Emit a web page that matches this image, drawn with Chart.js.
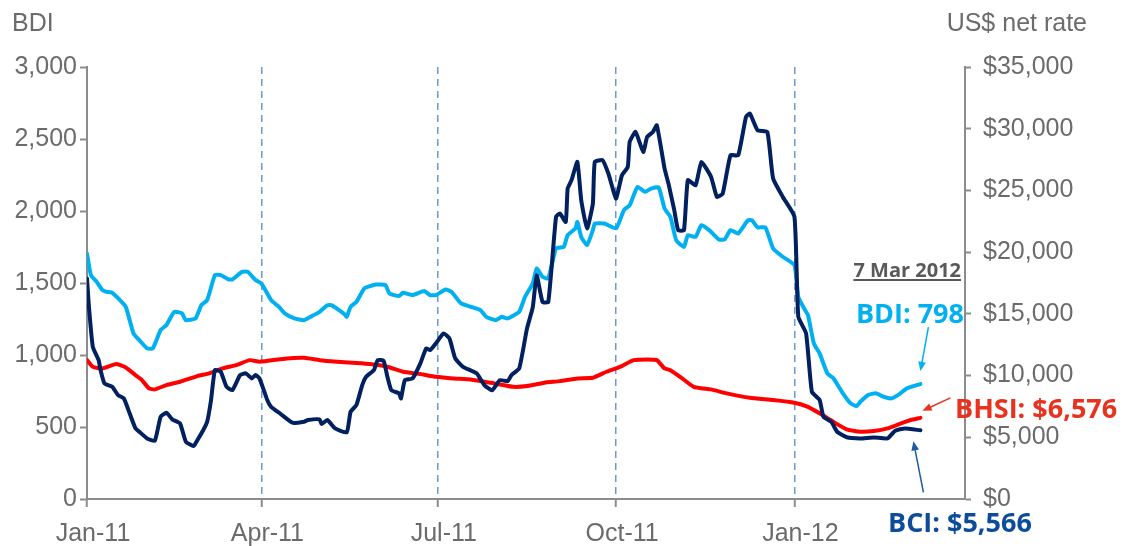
<!DOCTYPE html>
<html>
<head>
<meta charset="utf-8">
<script src="https://cdn.jsdelivr.net/npm/chart.js@4"></script>
<style>
  body { margin: 0; background: #fff; }
  canvas { display: block; }
</style>
</head>
<body>
<canvas id="freight" width="1122" height="546"></canvas>
<script>
// x values are days counted from 1 Jan 2011
const monthTicks = [0, 90, 181, 273, 365];
const monthLabels = ['Jan-11', 'Apr-11', 'Jul-11', 'Oct-11', 'Jan-12'];
const lastDay = 453;
const dateLabel = '7 Mar 2012';

// BDI index, left axis
const bdiDays = [0, 2, 5, 8, 10, 13, 17, 20, 24, 27, 31, 34, 38, 41, 45, 49, 51, 56, 59, 62, 66, 69, 73, 75, 80, 83, 87, 90, 95, 99,
  102, 107, 112, 116, 120, 124, 126, 130, 133, 134, 136, 139, 143, 146, 149, 154, 156, 161, 163, 168, 174, 177, 180, 185, 188, 193, 198,
  203, 206, 211, 214, 217, 223, 226, 230, 232, 235, 238, 242, 246, 248, 252, 253, 255, 258, 261, 262, 267, 273, 277, 280, 284, 288, 291,
  295, 298, 301, 304, 308, 310, 314, 317, 321, 326, 329, 332, 336, 341, 343, 346, 350, 354, 359, 365, 367, 370, 372, 375, 378, 382, 385,
  390, 394, 397, 399, 403, 407, 411, 415, 419, 423, 430];
const bdiValues = [1705, 1555, 1508, 1450, 1439, 1432, 1381, 1335, 1150, 1103, 1046, 1046, 1173, 1208, 1300, 1289, 1242, 1254, 1346, 1381,
  1555, 1555, 1525, 1525, 1577, 1577, 1520, 1497, 1381, 1335, 1289, 1254, 1242, 1270, 1300, 1346, 1346, 1312, 1282, 1265, 1335, 1369,
  1462, 1478, 1490, 1485, 1428, 1409, 1432, 1416, 1444, 1416, 1416, 1455, 1439, 1358, 1335, 1312, 1265, 1242, 1265, 1254, 1300, 1404,
  1497, 1601, 1543, 1532, 1740, 1751, 1832, 1879, 1924, 1820, 1763, 1867, 1913, 1913, 1879, 2006, 2040, 2167, 2133, 2156, 2163, 2017,
  1959, 1797, 1751, 1832, 1820, 1902, 1867, 1802, 1802, 1867, 1844, 1936, 1936, 1886, 1886, 1740, 1682, 1624, 1404, 1323, 1277, 1081,
  1011, 872, 840, 734, 664, 645, 675, 722, 734, 710, 699, 727, 768, 798];

// BCI US$/day, right axis
const bciDays = [0, 1, 3, 6, 7, 9, 13, 16, 19, 22, 25, 27, 31, 35, 38, 41, 44, 48, 51, 55, 57, 60, 62, 64, 66, 69, 72, 75, 79, 82, 85, 87,
  89, 93, 95, 100, 106, 112, 114, 120, 121, 124, 128, 134, 136, 139, 142, 144, 148, 150, 153, 155, 157, 161, 162, 164, 168, 172, 175, 177,
  180, 184, 187, 190, 194, 201, 205, 209, 213, 217, 219, 223, 227, 230, 232, 235, 238, 242, 244, 247, 248, 250, 253, 255, 258, 261, 262,
  266, 269, 271, 273, 276, 279, 280, 283, 287, 289, 292, 294, 298, 300, 303, 305, 308, 310, 314, 317, 322, 325, 328, 332, 336, 340, 342,
  346, 351, 354, 359, 365, 367, 371, 374, 378, 380, 384, 387, 392, 399, 406, 413, 417, 422, 430];
const bciValues = [17870, 15570, 12330, 11250, 10440, 9370, 9090, 8420, 8150, 6940, 5720, 5450, 4910, 4720, 6660, 6990, 6450, 6130, 4640,
  4290, 4780, 5590, 6260, 8020, 10440, 10310, 9090, 8820, 10040, 10180, 9770, 10040, 9770, 8020, 7470, 6880, 6180, 6260, 6400, 6450, 6070,
  6400, 5720, 5400, 7070, 7610, 9230, 9900, 10440, 11250, 11200, 9900, 8820, 8560, 8150, 9630, 9770, 10990, 12200, 12060, 12610, 13420,
  13010, 11390, 10710, 10180, 9230, 8800, 9630, 9550, 10040, 10580, 13800, 15540, 18130, 15970, 15970, 22860, 23130, 22450, 25150, 25830,
  27310, 24210, 21920, 23940, 27310, 27450, 26370, 25280, 24340, 26230, 26900, 28930, 29740, 28120, 29330, 29740, 30280, 26770, 25560,
  23400, 21780, 21780, 25830, 25420, 27310, 26090, 24470, 24750, 27850, 27850, 30950, 31230, 29870, 29740, 25960, 24470, 22860, 14760,
  13420, 8690, 8020, 6660, 6260, 5450, 5000, 4910, 4990, 4910, 5530, 5720, 5566];

// BHSI US$/day, right axis
const bhsiDays = [0, 3, 8, 15, 20, 25, 28, 32, 35, 41, 48, 57, 63, 70, 77, 84, 89, 103, 112, 120, 129, 137, 146, 155, 163, 172, 180, 189,
  198, 210, 220, 227, 236, 244, 253, 261, 268, 275, 282, 289, 294, 298, 301, 306, 313, 322, 330, 342, 354, 365, 372, 378, 385, 392, 399,
  406, 413, 420, 425, 430];
const bhsiValues = [11250, 10710, 10580, 10930, 10660, 10040, 9690, 8960, 8880, 9230, 9500, 9960, 10180, 10580, 10850, 11250, 11120, 11390,
  11440, 11250, 11120, 11030, 10930, 10710, 10310, 10120, 9900, 9770, 9690, 9370, 9090, 9150, 9420, 9550, 9770, 9820, 10310, 10710, 11250,
  11310, 11250, 10580, 10440, 9900, 9090, 8880, 8560, 8200, 8020, 7800, 7470, 6940, 6260, 5640, 5450, 5510, 5720, 6130, 6400, 6576];

const sans = "'Liberation Sans', Arial, sans-serif";
const bold = "'Open Sans', 'Noto Sans', sans-serif";
const grey = '#6b6b6b';
const axisGrey = '#8c8c8c';

function points(days, values) {
  return days.map((d, i) => ({ x: d, y: values[i] }));
}

function fmt(v) {
  return v.toLocaleString('en-US');
}

function arrow(ctx, x1, y1, x2, y2, color) {
  const a = Math.atan2(y2 - y1, x2 - x1);
  const head = 10;
  ctx.strokeStyle = color;
  ctx.fillStyle = color;
  ctx.lineWidth = 1.5;
  ctx.beginPath();
  ctx.moveTo(x1, y1);
  ctx.lineTo(x2 - Math.cos(a) * head * 0.8, y2 - Math.sin(a) * head * 0.8);
  ctx.stroke();
  ctx.beginPath();
  ctx.moveTo(x2, y2);
  ctx.lineTo(x2 - head * Math.cos(a - 0.4), y2 - head * Math.sin(a - 0.4));
  ctx.lineTo(x2 - head * Math.cos(a + 0.4), y2 - head * Math.sin(a + 0.4));
  ctx.closePath();
  ctx.fill();
}

const annotate = {
  id: 'annotate',
  afterDraw(chart) {
    const { ctx, chartArea, scales } = chart;
    const right = chartArea.right;
    ctx.save();

    ctx.font = `25px ${sans}`;
    ctx.fillStyle = grey;
    ctx.textBaseline = 'alphabetic';
    ctx.textAlign = 'left';
    ctx.fillText('BDI', 12, 31);
    ctx.textAlign = 'right';
    ctx.fillText('US$ net rate', right + 122, 31);

    // date caption, underlined
    ctx.font = `bold 20px ${bold}`;
    ctx.fillStyle = '#595959';
    ctx.textAlign = 'right';
    ctx.fillText(dateLabel, right - 4, 277);
    const w = ctx.measureText(dateLabel).width;
    ctx.fillRect(right - 4 - w, 279, w, 2);

    const bdiLast = bdiValues[bdiValues.length - 1];
    const bciLast = bciValues[bciValues.length - 1];
    const bhsiLast = bhsiValues[bhsiValues.length - 1];
    const xe = scales.x.getPixelForValue(bdiDays[bdiDays.length - 1]);
    const yBdi = scales.y.getPixelForValue(bdiLast);
    const yBci = scales.y1.getPixelForValue(bciLast);
    const yBhsi = scales.y1.getPixelForValue(bhsiLast);

    ctx.font = `bold 27px ${bold}`;
    ctx.fillStyle = '#00b0f0';
    ctx.textAlign = 'right';
    ctx.fillText('BDI: ' + fmt(bdiLast), right - 1, 323);
    arrow(ctx, xe + 8, yBdi - 57, xe, yBdi - 13, '#00b0f0');

    ctx.fillStyle = '#e8321e';
    ctx.textAlign = 'left';
    ctx.fillText('BHSI: $' + fmt(bhsiLast), right - 10, 418);
    arrow(ctx, xe + 30, yBhsi - 20, xe + 2, yBhsi - 7, '#e8321e');

    ctx.fillStyle = '#0d4c9b';
    ctx.fillText('BCI: $' + fmt(bciLast), right - 77, 532);
    arrow(ctx, xe + 3, yBci + 62, xe - 7, yBci + 11, '#1f5aa6');

    ctx.restore();
  }
};

new Chart(document.getElementById('freight'), {
  type: 'line',
  data: {
    datasets: [
      { label: 'BCI', data: points(bciDays, bciValues), yAxisID: 'y1', borderColor: '#002060', borderWidth: 4 },
      { label: 'BDI', data: points(bdiDays, bdiValues), yAxisID: 'y', borderColor: '#00b0f0', borderWidth: 4 },
      { label: 'BHSI', data: points(bhsiDays, bhsiValues), yAxisID: 'y1', borderColor: '#ff0000', borderWidth: 4 }
    ]
  },
  options: {
    responsive: false,
    animation: false,
    layout: { padding: { top: 67, left: 0, right: 0, bottom: 0 } },
    elements: {
      point: { radius: 0 },
      line: { tension: 0.15, borderJoinStyle: 'round', borderCapStyle: 'round' }
    },
    plugins: { legend: { display: false }, tooltip: { enabled: false } },
    scales: {
      x: {
        type: 'linear',
        min: 0,
        max: lastDay,
        afterBuildTicks: (s) => { s.ticks = monthTicks.map((v) => ({ value: v })); },
        afterFit: (s) => { s.height = 47; },
        ticks: {
          callback: (v) => monthLabels[monthTicks.indexOf(v)],
          font: { family: sans, size: 25 },
          color: grey,
          padding: 12,
          labelOffset: 6,
          maxRotation: 0,
          autoSkip: false
        },
        grid: {
          color: (c) => (c.index === 0 ? 'rgba(0,0,0,0)' : '#6f99cc'),
          lineWidth: 1.5,
          tickColor: axisGrey,
          tickWidth: 2,
          tickLength: 8
        },
        border: { color: axisGrey, width: 2, dash: [7, 5] }
      },
      y: {
        position: 'left',
        min: 0,
        max: 3000,
        afterFit: (s) => { s.width = 87; },
        ticks: {
          stepSize: 500,
          callback: (v) => fmt(v),
          font: { family: sans, size: 25 },
          color: grey,
          padding: 3
        },
        grid: { drawOnChartArea: false, tickColor: axisGrey, tickWidth: 2, tickLength: 7 },
        border: { color: axisGrey, width: 2 }
      },
      y1: {
        position: 'right',
        min: 0,
        max: 35000,
        afterFit: (s) => { s.width = 157; },
        ticks: {
          stepSize: 5000,
          callback: (v) => '$' + fmt(v),
          font: { family: sans, size: 25 },
          color: grey,
          padding: 12
        },
        grid: { drawOnChartArea: false, tickColor: axisGrey, tickWidth: 2, tickLength: 6 },
        border: { color: axisGrey, width: 2 }
      }
    }
  },
  plugins: [annotate]
});
</script>
</body>
</html>
